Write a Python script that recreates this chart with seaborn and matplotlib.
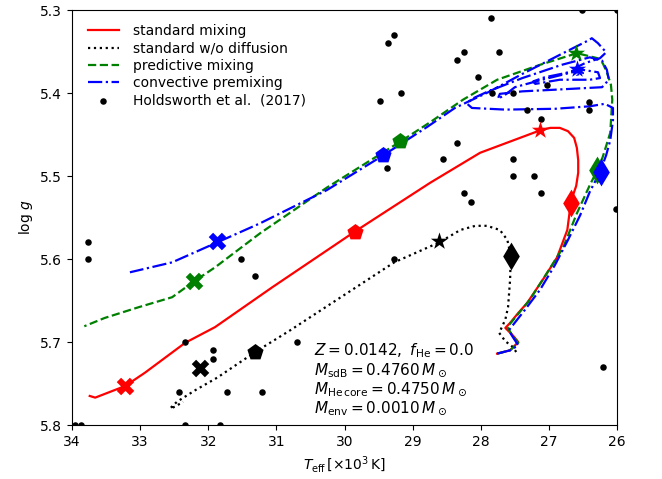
import matplotlib
matplotlib.use("Agg")
import matplotlib.pyplot as plt
import seaborn as sns
import pandas as pd

# ---- evolutionary tracks (Teff in 10^3 K, log g) ----
std_T = [27.76, 27.57, 27.45, 27.53, 27.64, 27.57, 27.45, 27.32, 27.09, 26.88,
         26.73, 26.68, 26.65, 26.60, 26.57, 26.57, 26.59, 26.63, 26.72, 26.84,
         26.98, 27.13, 28.01, 28.74, 29.85, 31.06, 31.90, 32.34, 32.93, 33.22,
         33.66, 33.74]
std_g = [5.714, 5.710, 5.700, 5.692, 5.683, 5.677, 5.665, 5.653, 5.625, 5.598,
         5.565, 5.533, 5.524, 5.512, 5.496, 5.481, 5.466, 5.454, 5.446, 5.442,
         5.442, 5.445, 5.472, 5.508, 5.567, 5.634, 5.682, 5.701, 5.737, 5.753,
         5.767, 5.765]

nodiff_T = [27.48, 27.53, 27.64, 27.73, 27.64, 27.60, 27.57, 27.56, 27.61, 27.72,
            27.91, 28.08, 28.30, 28.61, 29.27, 30.11, 30.80, 31.31, 31.87, 32.19,
            32.46, 32.56, 32.49, 32.37]
nodiff_g = [5.712, 5.706, 5.699, 5.689, 5.673, 5.658, 5.625, 5.596, 5.577, 5.565,
            5.560, 5.560, 5.565, 5.580, 5.604, 5.649, 5.686, 5.712, 5.743, 5.758,
            5.772, 5.780, 5.778, 5.772]

pred_T = [27.76, 27.57, 27.45, 27.53, 27.61, 27.28, 27.03, 26.79, 26.59, 26.40,
          26.29, 26.21, 26.10, 26.07, 26.09, 26.15, 26.21, 26.29, 26.59, 27.13,
          27.76, 28.26, 28.74, 29.19, 30.26, 31.24, 31.90, 32.21, 32.53, 33.02,
          33.52, 33.82]
pred_g = [5.714, 5.710, 5.701, 5.693, 5.682, 5.649, 5.617, 5.586, 5.545, 5.511,
          5.493, 5.477, 5.448, 5.408, 5.390, 5.375, 5.364, 5.358, 5.352, 5.366,
          5.384, 5.408, 5.435, 5.459, 5.514, 5.569, 5.610, 5.627, 5.646, 5.658,
          5.671, 5.681]

conv_T = [27.76, 27.57, 27.45, 27.53, 27.59, 27.35, 27.13, 26.91, 26.72, 26.54,
          26.40, 26.25, 26.16, 26.10, 26.06, 26.06,
          26.18, 26.40, 26.91, 27.64, 28.13, 28.20, 28.13, 27.89, 27.39, 26.81,
          26.40, 26.22, 26.15, 26.12,
          26.22, 26.91, 27.39, 27.72, 27.75, 27.64, 27.50, 27.10, 26.51, 26.28,
          26.25,
          26.40, 26.84, 27.20, 27.23, 27.06, 26.76, 26.57, 26.50, 26.59, 26.62,
          26.47, 26.25, 26.16, 26.28, 26.37,
          26.43, 26.84, 27.39, 27.89, 28.38, 28.79, 29.43, 30.26, 31.24, 31.87,
          32.53, 33.15]
conv_g = [5.714, 5.710, 5.704, 5.694, 5.686, 5.661, 5.637, 5.607, 5.577, 5.547,
          5.519, 5.495, 5.475, 5.457, 5.433, 5.418,
          5.413, 5.416, 5.419, 5.420, 5.418, 5.413, 5.407, 5.398, 5.382, 5.366,
          5.357, 5.361, 5.372, 5.384,
          5.393, 5.396, 5.398, 5.401, 5.407, 5.402, 5.393, 5.384, 5.372, 5.375,
          5.382,
          5.384, 5.384, 5.389, 5.386, 5.381, 5.376, 5.371, 5.376, 5.378, 5.370,
          5.364, 5.358, 5.351, 5.340, 5.334,
          5.337, 5.354, 5.377, 5.399, 5.418, 5.441, 5.475, 5.517, 5.557, 5.580,
          5.604, 5.616]

# ---- age markers along each track: X, pentagon, star, diamond ----
mark_shapes = ["X", "p", "*", "d"]
mark_sizes = [160, 150, 170, 200]
std_mark_T = [33.22, 29.85, 27.13, 26.68]
std_mark_g = [5.753, 5.567, 5.445, 5.533]
nodiff_mark_T = [32.12, 31.31, 28.61, 27.56]
nodiff_mark_g = [5.731, 5.712, 5.578, 5.596]
pred_mark_T = [32.21, 29.19, 26.60, 26.29]
pred_mark_g = [5.627, 5.458, 5.352, 5.493]
conv_mark_T = [31.87, 29.43, 26.59, 26.23]
conv_mark_g = [5.578, 5.475, 5.371, 5.495]

# ---- observed sdB stars ----
obs_T = [27.85, 26.51, 26.00, 29.36, 29.27, 29.17, 29.48, 28.25, 28.35, 27.73,
         28.04, 27.83, 27.53, 27.03, 26.41, 26.41, 27.32, 27.12, 28.35, 28.55,
         27.53, 27.53, 27.22, 28.25, 28.14, 27.12, 26.02, 29.38, 29.27, 33.77,
         33.77, 31.52, 31.31, 32.34, 31.93, 31.93, 32.43, 31.73, 31.21, 33.96,
         33.87, 32.34, 31.83, 30.70, 26.20]
obs_g = [5.310, 5.300, 5.300, 5.340, 5.330, 5.400, 5.410, 5.351, 5.360, 5.351,
         5.381, 5.400, 5.400, 5.390, 5.411, 5.420, 5.420, 5.431, 5.460, 5.480,
         5.480, 5.500, 5.500, 5.520, 5.531, 5.520, 5.540, 5.490, 5.600, 5.580,
         5.600, 5.600, 5.620, 5.700, 5.710, 5.720, 5.760, 5.760, 5.760, 5.800,
         5.800, 5.800, 5.800, 5.700, 5.730]

tracks = [
    ("standard mixing", std_T, std_g, "red", "-", std_mark_T, std_mark_g),
    ("standard w/o diffusion", nodiff_T, nodiff_g, "black", ":", nodiff_mark_T, nodiff_mark_g),
    ("predictive mixing", pred_T, pred_g, "green", "--", pred_mark_T, pred_mark_g),
    ("convective premixing", conv_T, conv_g, "blue", "-.", conv_mark_T, conv_mark_g),
]

fig = plt.figure(figsize=(6.62, 4.79), dpi=100)
ax = fig.add_axes([0.1088, 0.1127, 0.8233, 0.8664])

for label, T, g, color, ls, mT, mg in tracks:
    df = pd.DataFrame({"T": T, "g": g})
    sns.lineplot(data=df, x="T", y="g", sort=False, estimator=None, color=color,
                 linestyle=ls, linewidth=1.6, label=label, ax=ax)

obs = pd.DataFrame({"T": obs_T, "g": obs_g})
sns.scatterplot(data=obs, x="T", y="g", color="black", s=22, linewidth=0,
                label="Holdsworth et al.  (2017)", ax=ax, zorder=3)

for label, T, g, color, ls, mT, mg in tracks:
    for t, gg, m, s in zip(mT, mg, mark_shapes, mark_sizes):
        sns.scatterplot(x=[t], y=[gg], marker=m, s=s, color=color,
                        edgecolor=color, linewidth=0, ax=ax, zorder=4)

ax.set_xlim(34, 26)
ax.set_ylim(5.8, 5.3)
ax.set_xticks([34, 33, 32, 31, 30, 29, 28, 27, 26])
ax.set_yticks([5.3, 5.4, 5.5, 5.6, 5.7, 5.8])
ax.set_xlabel(r"$T_{\rm eff}\,[\times 10^3\,{\rm K}]$", fontsize=10)
ax.set_ylabel(r"$\log\,g$", fontsize=10)
ax.tick_params(labelsize=10)

ax.legend(loc="upper left", frameon=False, fontsize=10, handlelength=2.2,
          handletextpad=1.0, labelspacing=0.25, borderaxespad=0.6,
          bbox_to_anchor=(0.004, 1.0))

ax.text(30.45, 5.699, "\n".join([
    r"$Z = 0.0142,\ f_{\rm He} = 0.0$",
    r"$M_{\rm sdB} = 0.4760\,M_\odot$",
    r"$M_{\rm He\,core} = 0.4750\,M_\odot$",
    r"$M_{\rm env} = 0.0010\,M_\odot$",
]), fontsize=11, va="top", ha="left", linespacing=1.08)

fig.savefig("out.png", dpi=100)
